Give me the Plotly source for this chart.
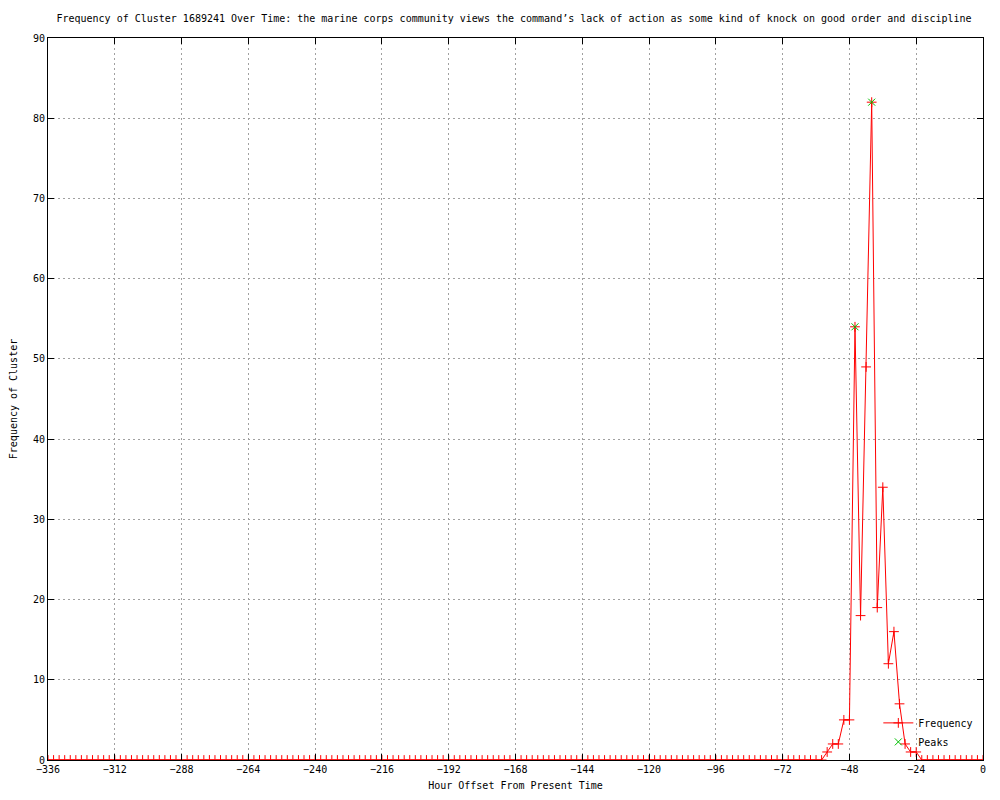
import plotly.graph_objects as go

hours = list(range(-336, 1, 2))
frequency = [
    0, 0, 0, 0, 0, 0, 0, 0, 0, 0, 0, 0, 0, 0, 0, 0, 0, 0, 0, 0,
    0, 0, 0, 0, 0, 0, 0, 0, 0, 0, 0, 0, 0, 0, 0, 0, 0, 0, 0, 0,
    0, 0, 0, 0, 0, 0, 0, 0, 0, 0, 0, 0, 0, 0, 0, 0, 0, 0, 0, 0,
    0, 0, 0, 0, 0, 0, 0, 0, 0, 0, 0, 0, 0, 0, 0, 0, 0, 0, 0, 0,
    0, 0, 0, 0, 0, 0, 0, 0, 0, 0, 0, 0, 0, 0, 0, 0, 0, 0, 0, 0,
    0, 0, 0, 0, 0, 0, 0, 0, 0, 0, 0, 0, 0, 0, 0, 0, 0, 0, 0, 0,
    0, 0, 0, 0, 0, 0, 0, 0, 0, 0, 0, 0, 0, 0, 0, 0, 0, 0, 0,
    # -58 .. -22
    0, 1, 2, 2, 5, 5, 54, 18, 49, 82, 19, 34, 12, 16, 7, 2, 1, 1, 0,
    # -20 .. 0
    0, 0, 0, 0, 0, 0, 0, 0, 0, 0, 0,
]
peak_hours = [-46, -40]
peak_values = [54, 82]

title = ("Frequency of Cluster 1689241 Over Time: the marine corps community views "
         "the command’s lack of action as some kind of knock on good order and discipline")
x_ticks = list(range(-336, 1, 24))
y_ticks = list(range(0, 91, 10))

FONT = "DejaVu Sans Mono"

fig = go.Figure()
fig.add_trace(go.Scatter(
    x=hours, y=frequency, mode="lines+markers", name="Frequency",
    line=dict(color="#ff0000", width=1),
    marker=dict(symbol="cross-thin", size=7, color="#ff0000",
                line=dict(color="#ff0000", width=1)),
))
fig.add_trace(go.Scatter(
    x=peak_hours, y=peak_values, mode="markers", name="Peaks",
    marker=dict(symbol="x-thin", size=7, color="#00c000",
                line=dict(color="#00c000", width=1)),
))

axis_common = dict(
    showline=True, linecolor="black", linewidth=1, mirror="ticks",
    ticks="inside", ticklen=6, tickcolor="black",
    showgrid=True, gridcolor="#a0a0a0", griddash="2px,3px", gridwidth=1,
    zeroline=False, tickfont=dict(family=FONT, size=10, color="black"),
    automargin=False,
)

fig.update_layout(
    width=1000, height=800,
    margin=dict(l=40, r=25, t=30, b=48),
    paper_bgcolor="white", plot_bgcolor="white",
    font=dict(family=FONT, size=10, color="black"),
    title=dict(text=title, x=0.506, xanchor="center", y=0.9875, yanchor="middle",
               font=dict(family=FONT, size=10, color="black")),
    xaxis=dict(range=[-336, 0], tickvals=x_ticks,
               title=dict(text="Hour Offset From Present Time", standoff=7,
                          font=dict(family=FONT, size=10)),
               **axis_common),
    yaxis=dict(range=[0, 90], tickvals=y_ticks,
               title=dict(text="Frequency of Cluster", standoff=13,
                          font=dict(family=FONT, size=10)),
               **axis_common),
    legend=dict(x=0.995, y=0.005, xanchor="right", yanchor="bottom",
                bgcolor="rgba(0,0,0,0)", font=dict(family=FONT, size=10),
                tracegroupgap=0),
    showlegend=True,
)

fig.write_html("out.html")
